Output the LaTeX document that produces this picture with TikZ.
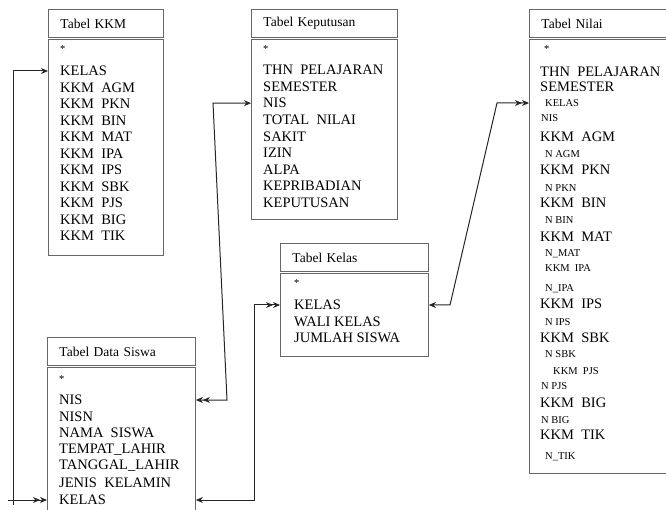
\documentclass[tikz,border=0pt]{standalone}
\usepackage{fontspec}
\setmainfont{Liberation Serif}
\usepackage{tikz}
\usetikzlibrary{arrows.meta}
\usetikzlibrary{positioning}

\begin{document}
\begin{tikzpicture}[x=1pt, y=-1pt,
    judul/.style={draw=black!60, line width=0.9pt, anchor=north west,
        minimum height=28pt, inner xsep=12pt, inner ysep=0pt, align=left,
        font=\fontsize{13.5}{15}\selectfont},
    badan/.style={draw=black!60, line width=0.9pt, anchor=north west, inner sep=0pt},
    kolom/.style={anchor=west, inner sep=0pt, text height=9.5pt, text depth=0pt,
        font=\fontsize{14.5}{16}\selectfont},
    kecil/.style={kolom, text height=7pt, font=\fontsize{10.5}{12}\selectfont},
    relasi/.style={black!85, line width=1pt},
    >={Stealth[length=7pt, width=6pt]}]
        \clip (0,0) rectangle (666,510);

        % Tabel KKM
        \node[judul, text width=91pt] (kkm-judul) at (48,9) {Tabel KKM};
        \node[badan, minimum width=115pt, minimum height=216pt] (kkm) at (48,39) {};
        \node[kecil] (kkm-kunci) at (60,49) {*};
        \node[kolom] (kkm-kelas) at (60,71) {KELAS};
        \foreach \teks [count=\i] in {KKM~~AGM, KKM~~PKN, KKM~~BIN, KKM~~MAT, KKM~~IPA,
            KKM~~IPS, KKM~~SBK, KKM~~PJS, KKM~~BIG, KKM~~TIK}
            \node[kolom] (kkm-\i) at (60, {71+16.5*\i}) {\teks};

        % Tabel Keputusan
        \node[judul, text width=122pt] (kep-judul) at (251,9) {Tabel Keputusan};
        \node[badan, minimum width=146pt, minimum height=180pt] (kep) at (251,39) {};
        \node[kecil] (kep-kunci) at (263,49) {*};
        \foreach \teks/\nama [count=\i from 0] in {THN~~PELAJARAN/thn, SEMESTER/smt,
            NIS/nis, TOTAL~~NILAI/total, SAKIT/sakit, IZIN/izin, ALPA/alpa,
            KEPRIBADIAN/pribadi, KEPUTUSAN/putus}
            \node[kolom] (kep-\nama) at (263, {70+16.6*\i}) {\teks};

        % Tabel Kelas
        \node[judul, text width=124pt] (kls-judul) at (280,243) {Tabel Kelas};
        \node[badan, minimum width=148pt, minimum height=83pt] (kls) at (280,273) {};
        \node[kecil] (kls-kunci) at (294,283) {*};
        \node[kolom] (kls-kelas) at (294,305) {KELAS};
        \node[kolom] (kls-wali) at (294,322) {WALI KELAS};
        \node[kolom] (kls-jumlah) at (294,338) {JUMLAH SISWA};

        % Tabel Data Siswa
        \node[judul, text width=124pt] (ds-judul) at (47,337) {Tabel Data Siswa};
        \node[badan, minimum width=148pt, minimum height=160pt] (ds) at (47,367) {};
        \node[kecil] (ds-kunci) at (59,379) {*};
        \foreach \teks/\nama/\y in {NIS/nis/400, NISN/nisn/417, NAMA~~SISWA/nama/433,
            TEMPAT\_LAHIR/tempat/449, TANGGAL\_LAHIR/tanggal/465,
            JENIS~~KELAMIN/jk/483, KELAS/kelas/500}
            \node[kolom] (ds-\nama) at (59,\y) {\teks};

        % Tabel Nilai
        \node[judul, text width=127pt] (nil-judul) at (529,9) {Tabel Nilai};
        \node[badan, minimum width=151pt, minimum height=434pt] (nil) at (529,39) {};
        \node[kecil] (nil-kunci) at (544,49) {*};
        \node[kecil] (nil-kelas) at (545,103) {KELAS};
        \foreach \teks/\y [count=\i] in {THN~~PELAJARAN/72, SEMESTER/87, KKM~~AGM/137,
            KKM~~PKN/170, KKM~~BIN/203, KKM~~MAT/237, KKM~~IPS/304, KKM~~SBK/338,
            KKM~~BIG/403, KKM~~TIK/435}
            \node[kolom] (nil-\i) at (540,\y) {\teks};
        \foreach \teks/\x/\y [count=\i] in {NIS/541/118, N~AGM/545/154, N~PKN/545/188,
            N~BIN/545/220, N\_MAT/545/253, KKM~~IPA/545/268, N\_IPA/545/288,
            N~IPS/545/322, N~SBK/545/354, KKM~~PJS/553/371, N~PJS/541/386,
            N~BIG/541/420, N\_TIK/545/456}
            \node[kecil] (nil-n\i) at (\x,\y) {\teks};

        % Titik belok relasi
        \coordinate (belokA) at (13,0);
        \coordinate (belokB1) at (213,0);
        \coordinate (belokB2) at (227,0);
        \coordinate (belokC) at (254,0);
        \coordinate (belokD1) at (450,0);
        \coordinate (belokD2) at (497,0);

        % Relasi antar tabel
        \draw[relasi, ->>] (ds-kelas -| belokA) ++(-5,0) -- (ds-kelas -| ds.west);
        \draw[relasi, ->] (ds-kelas -| belokA) ++(0,5) -- (kkm-kelas -| belokA)
            -- (kkm-kelas -| kkm.west);
        \draw[relasi, <<->] (ds-nis -| ds.east) -- (ds-nis -| belokB2)
            -- (kep-nis -| belokB1) -- (kep-nis -| kep.west);
        \draw[relasi, <->>] (ds-kelas -| ds.east) -- (ds-kelas -| belokC)
            -- (kls-kelas -| belokC) -- (kls-kelas -| kls.west);
        \draw[relasi, <->>] (kls-kelas -| kls.east) -- (kls-kelas -| belokD1)
            -- (nil-kelas -| belokD2) -- (nil-kelas -| nil.west);
    \end{tikzpicture}
\end{document}
